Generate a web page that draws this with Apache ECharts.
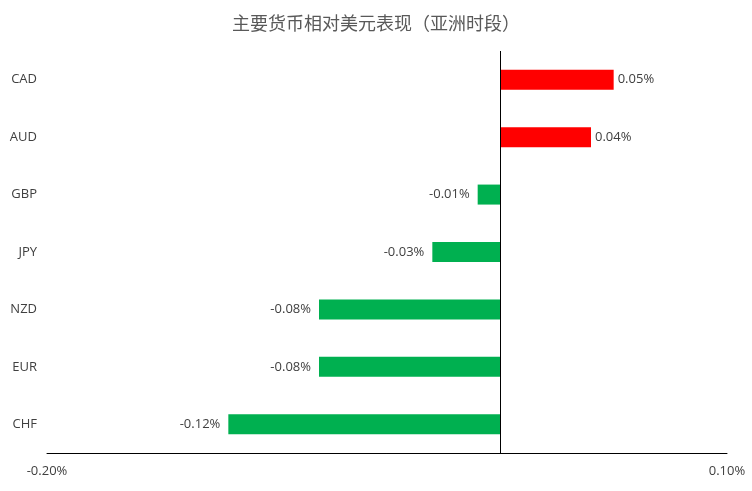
<!DOCTYPE html>
<html>
<head>
<meta charset="utf-8">
<script src="https://cdn.jsdelivr.net/npm/echarts@6/dist/echarts.min.js"></script>
<style>
  html, body { margin: 0; padding: 0; background: #fff; }
  #chart { width: 752px; height: 491px; }
</style>
</head>
<body>
<div id="chart"></div>
<script>
// 货币 / 相对美元涨跌幅(%)
var currencies = ['CAD', 'AUD', 'GBP', 'JPY', 'NZD', 'EUR', 'CHF'];
var changes = [0.05, 0.04, -0.01, -0.03, -0.08, -0.08, -0.12];
var axisMin = -0.2, axisMax = 0.1;

var myChart = echarts.init(document.getElementById('chart'));

// 正值红色，负值绿色
var barData = changes.map(function (v) {
    return {
        value: v,
        itemStyle: { color: v >= 0 ? '#FF0000' : '#00B050' },
        label: {
            position: v >= 0 ? 'right' : 'left',
            distance: v >= 0 ? 4 : 8
        }
    };
});

var option = {
    title: {
        text: '主要货币相对美元表现（亚洲时段）',
        left: 'center',
        top: 9,
        textStyle: {
            fontFamily: 'Noto Sans CJK SC',
            fontSize: 18,
            fontWeight: 'normal',
            color: '#595959'
        }
    },
    grid: {
        left: 47,
        right: 25,
        top: 51,
        bottom: 38
    },
    xAxis: {
        type: 'value',
        min: axisMin,
        max: axisMax,
        interval: 0.1,
        axisLine: { show: true, lineStyle: { color: '#000', width: 1 } },
        axisTick: { show: false },
        splitLine: { show: false },
        axisLabel: {
            margin: 12,
            color: '#404040',
            fontSize: 13,
            fontFamily: 'Open Sans',
            formatter: function (v) {
                if (Math.abs(v - axisMin) < 1e-9 || Math.abs(v - axisMax) < 1e-9) {
                    return v.toFixed(2) + '%';
                }
                return '';
            }
        }
    },
    yAxis: {
        type: 'category',
        inverse: true,
        data: currencies,
        axisLine: { show: false, onZero: false },
        axisTick: { show: false },
        axisLabel: {
            margin: 10,
            color: '#404040',
            fontSize: 13,
            fontFamily: 'Open Sans'
        }
    },
    series: [
        {
            type: 'bar',
            barWidth: 20,
            data: barData,
            label: {
                show: true,
                color: '#404040',
                fontSize: 13,
                fontFamily: 'Open Sans',
                formatter: function (p) {
                    return p.value.toFixed(2) + '%';
                }
            },
            markLine: {
                silent: true,
                symbol: 'none',
                label: { show: false },
                lineStyle: { color: '#000', type: 'solid', width: 1 },
                data: [{ xAxis: 0 }]
            }
        }
    ]
};
myChart.setOption(option);
</script>
</body>
</html>
